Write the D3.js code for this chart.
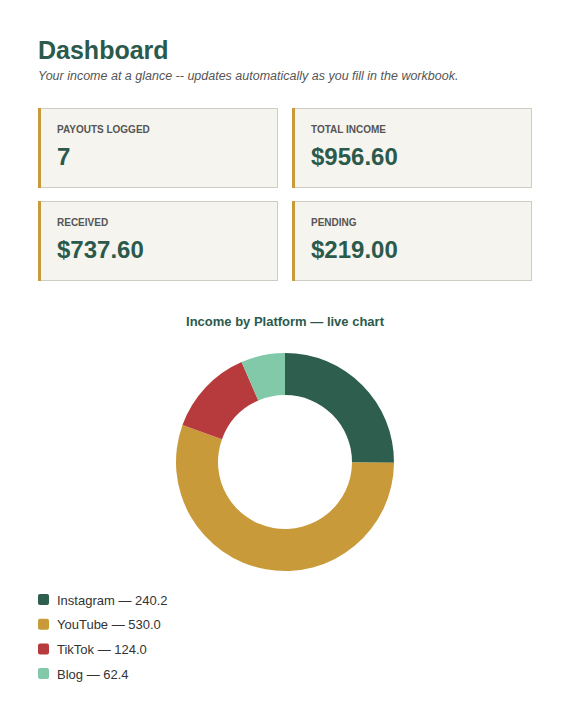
<!DOCTYPE html>
<html><head><meta charset="utf-8">
<script src="https://cdn.jsdelivr.net/npm/d3@7"></script>
<style>body{margin:0;background:#fff;font-family:"Liberation Sans",Arial,sans-serif}</style>
</head><body><svg id="c" width="570" height="728"></svg>
<script>
const platforms=["Instagram","YouTube","TikTok","Blog"];
const values=[240.2,530.0,124.0,62.4];
const colors=["#2e5e4e","#c99a3a","#b73b3c","#82c9a9"];
const cardLabels=["PAYOUTS LOGGED","TOTAL INCOME","RECEIVED","PENDING"];
const cardValues=["7","$956.60","$737.60","$219.00"];

const svg=d3.select("#c");
svg.append("text").attr("x",38).attr("y",59).attr("font-size",25).attr("font-weight","bold").attr("fill","#2b5a4c").text("Dashboard");
svg.append("text").attr("x",38).attr("y",80).attr("font-size",12.5).attr("font-style","italic").attr("fill","#555").text("Your income at a glance -- updates automatically as you fill in the workbook.");

cardLabels.forEach((l,i)=>{
  const x=38+(i%2)*254, y=108+Math.floor(i/2)*93;
  const g=svg.append("g").attr("transform",`translate(${x},${y})`);
  g.append("rect").attr("x",0.5).attr("y",0.5).attr("width",239).attr("height",79).attr("fill","#f5f4ef").attr("stroke","#cfccc3");
  g.append("rect").attr("width",3).attr("height",80).attr("fill","#c99a3a");
  g.append("text").attr("x",19).attr("y",25).attr("font-size",10).attr("font-weight","bold").attr("fill","#555").text(l);
  g.append("text").attr("x",19).attr("y",57).attr("font-size",24).attr("font-weight","bold").attr("fill","#2b5a4c").text(cardValues[i]);
});

svg.append("text").attr("x",285).attr("y",326).attr("text-anchor","middle").attr("font-size",13).attr("font-weight","bold").attr("fill","#2b5a4c").text("Income by Platform \u2014 live chart");

const pie=d3.pie().sort(null)(values);
const arc=d3.arc().innerRadius(67).outerRadius(109);
svg.append("g").attr("transform","translate(285,462)").selectAll("path").data(pie).join("path")
  .attr("d",arc).attr("fill",(d,i)=>colors[i]);

platforms.forEach((p,i)=>{
  const y=600+i*24.7;
  svg.append("rect").attr("x",38).attr("y",y-6).attr("width",11).attr("height",11).attr("rx",2).attr("fill",colors[i]);
  svg.append("text").attr("x",57).attr("y",y+4.5).attr("font-size",13).attr("fill","#333").text(`${p} \u2014 ${values[i].toFixed(1)}`);
});
</script></body></html>
